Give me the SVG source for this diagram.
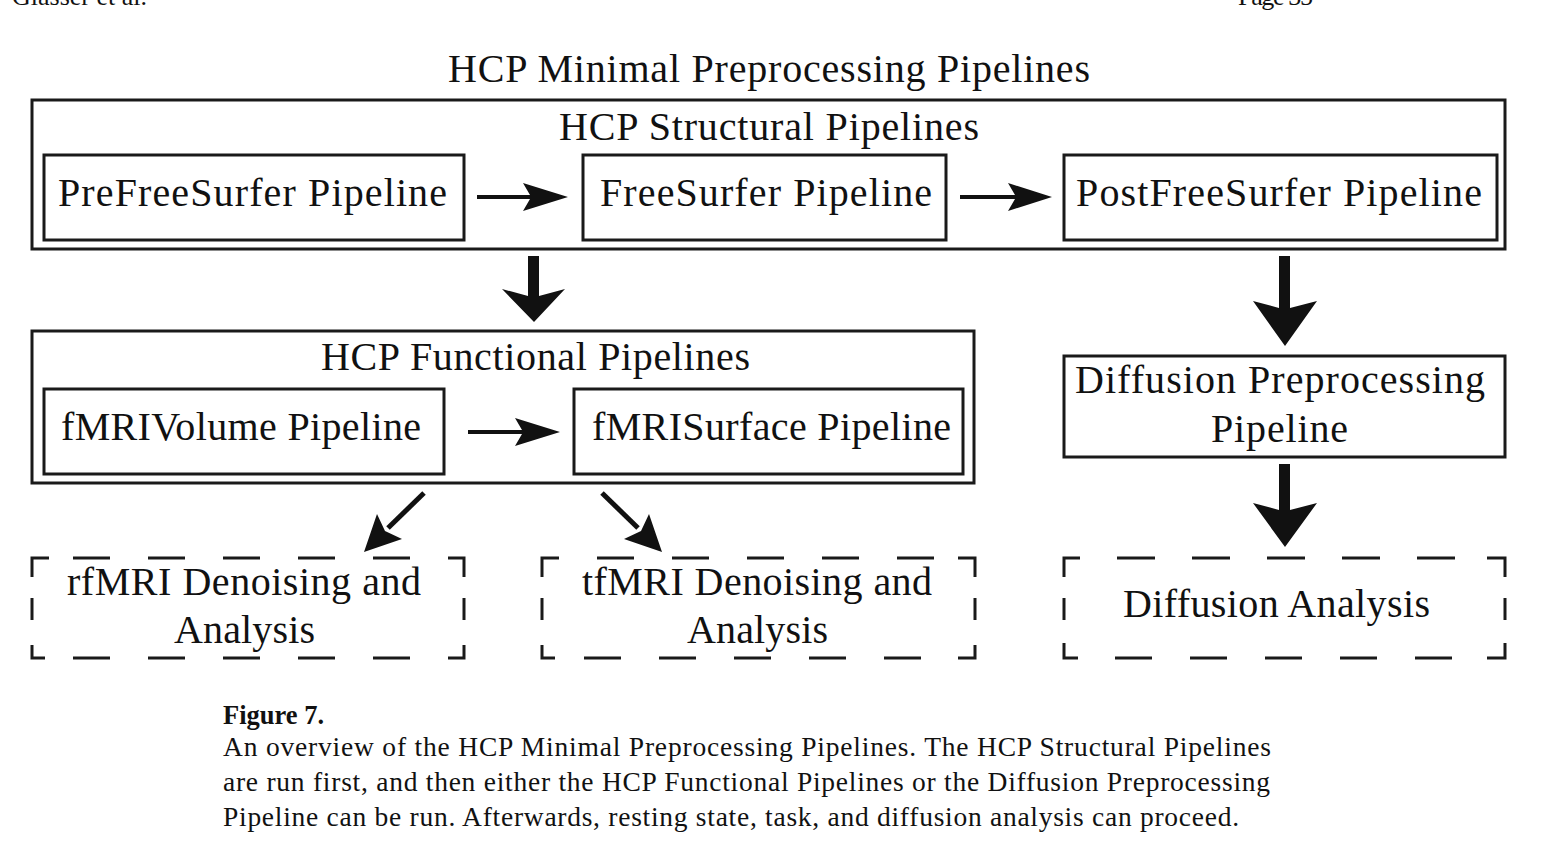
<svg xmlns="http://www.w3.org/2000/svg" width="1549" height="853" viewBox="0 0 1549 853">
<style>
.bg{fill:#ffffff}
.box{fill:none;stroke:#1a1a1a;stroke-width:3}
.dash{fill:none;stroke:#1a1a1a;stroke-width:3}
.t{font-family:"Liberation Serif","Times New Roman",serif;font-size:40px;fill:#111;text-anchor:middle}
.hd{font-family:"Liberation Serif","Times New Roman",serif;font-size:26px;fill:#111}
.cap{font-family:"Liberation Serif","Times New Roman",serif;font-size:27.5px;fill:#111}
.capb{font-family:"Liberation Serif","Times New Roman",serif;font-size:26.5px;font-weight:bold;fill:#111}
.ah{fill:#111;stroke:none}
.sh{stroke:#111;stroke-width:5;fill:none}
</style>
<rect class="bg" x="0" y="0" width="1549" height="853"/>
<text class="hd" x="12" y="5">Glasser et al.</text>
<text class="hd" x="1238" y="5" textLength="75">Page 35</text>
<text class="t" x="769" y="82" font-size="41" textLength="642">HCP Minimal Preprocessing Pipelines</text>

<g id="structural">
<rect class="box" x="32" y="100" width="1473" height="149"/>
<text class="t" x="769" y="140" textLength="420">HCP Structural Pipelines</text>
</g>
<g id="prefreesurfer">
<rect class="box" x="44" y="155" width="420" height="85"/>
<text class="t" x="252.5" y="206" textLength="389">PreFreeSurfer Pipeline</text>
</g>
<g id="freesurfer">
<rect class="box" x="583" y="155" width="363" height="85"/>
<text class="t" x="766" y="206" textLength="332">FreeSurfer Pipeline</text>
</g>
<g id="postfreesurfer">
<rect class="box" x="1064" y="155" width="433" height="85"/>
<text class="t" x="1279" y="206" textLength="406">PostFreeSurfer Pipeline</text>
</g>

<g id="functional">
<rect class="box" x="32" y="331" width="942" height="152"/>
<text class="t" x="535.5" y="370" textLength="429">HCP Functional Pipelines</text>
</g>
<g id="fmrivolume">
<rect class="box" x="44" y="389" width="400" height="85"/>
<text class="t" x="241" y="440" textLength="360">fMRIVolume Pipeline</text>
</g>
<g id="fmrisurface">
<rect class="box" x="574" y="389" width="389" height="85"/>
<text class="t" x="771.5" y="440" textLength="359">fMRISurface Pipeline</text>
</g>

<g id="diffusionprep">
<rect class="box" x="1064" y="356" width="441" height="101"/>
<text class="t" x="1280" y="393" textLength="410">Diffusion Preprocessing</text>
<text class="t" x="1279.5" y="442" textLength="137">Pipeline</text>
</g>

<g id="rfmri">
<path class="dash" d="M32,577 V558 H49 M73,558 H110 M148,558 H185 M223,558 H260 M298,558 H335 M373,558 H410 M448,558 H464 V577 M464,598 V620 M464,645 V658 H448 M410,658 H373 M335,658 H298 M260,658 H223 M185,658 H148 M110,658 H73 M45,658 H32 V645 M32,620 V598"/>
<text class="t" x="244" y="595" textLength="354">rfMRI Denoising and</text>
<text class="t" x="244.5" y="643" textLength="141">Analysis</text>
</g>
<g id="tfmri">
<path class="dash" d="M542,577 V558 H559 M597,558 H634 M672,558 H709 M747,558 H784 M822,558 H859 M897,558 H934 M958,558 H975 V577 M975,598 V620 M975,645 V658 H958 M921,658 H884 M846,658 H809 M771,658 H734 M696,658 H659 M621,658 H584 M555,658 H542 V645 M542,620 V598"/>
<text class="t" x="757" y="595" textLength="350">tfMRI Denoising and</text>
<text class="t" x="757.5" y="643" textLength="141">Analysis</text>
</g>
<g id="diffusionanalysis">
<path class="dash" d="M1064,577 V558 H1080 M1117,558 H1155 M1192,558 H1230 M1267,558 H1305 M1342,558 H1380 M1417,558 H1455 M1487,558 H1505 V577 M1505,598 V620 M1505,643 V658 H1487 M1452,658 H1415 M1377,658 H1340 M1302,658 H1265 M1227,658 H1190 M1152,658 H1115 M1078,658 H1064 V643 M1064,620 V598"/>
<text class="t" x="1276.5" y="617" textLength="307">Diffusion Analysis</text>
</g>

<g id="connectors">
<polygon class="ah" points="477,195 530,195 523,183 568,197 523,211 530,199 477,199"/>
<polygon class="ah" points="960,195 1015,195 1008,183 1052,197 1008,211 1015,199 960,199"/>
<polygon class="ah" points="468,430 522,430 515,418 560,432 515,446 522,434 468,434"/>
<polygon class="ah" points="528,256 539,256 539,296 565,289 534,322 502,289 528,296"/>
<polygon class="ah" points="1279,256 1290,256 1290,308 1317,301 1285,346 1253,301 1279,308"/>
<polygon class="ah" points="1279,464 1290,464 1290,510 1317,503 1285,547 1253,503 1279,510"/>
<line class="sh" x1="424" y1="493" x2="388" y2="528"/>
<polygon class="ah" points="364,552 377,514 385,531 402,539"/>
<line class="sh" x1="602" y1="493" x2="638" y2="528"/>
<polygon class="ah" points="662,552 649,514 641,531 624,539"/>
</g>

<g id="caption">
<text class="capb" x="223" y="724">Figure 7.</text>
<text class="cap" x="223" y="756" textLength="1048">An overview of the HCP Minimal Preprocessing Pipelines. The HCP Structural Pipelines</text>
<text class="cap" x="223" y="791" textLength="1047">are run first, and then either the HCP Functional Pipelines or the Diffusion Preprocessing</text>
<text class="cap" x="223" y="826" textLength="1016">Pipeline can be run. Afterwards, resting state, task, and diffusion analysis can proceed.</text>
</g>
</svg>
